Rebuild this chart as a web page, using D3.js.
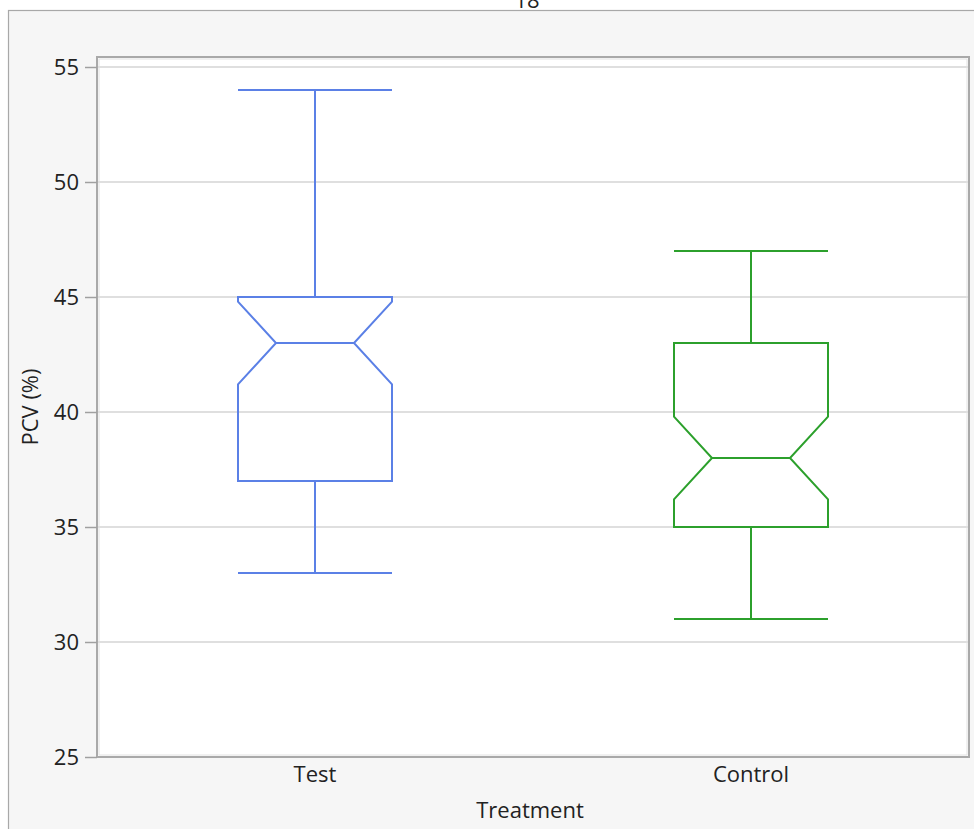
<!DOCTYPE html>
<html>
<head>
<meta charset="utf-8">
<script src="https://cdn.jsdelivr.net/npm/d3@7"></script>
<style>
html,body{margin:0;padding:0;background:#fff;}
svg{display:block;}
text{font-family:"Open Sans","Noto Sans",sans-serif;fill:#222;}
</style>
</head>
<body>
<svg id="chart" width="974" height="829"></svg>
<script>
const categories = ["Test", "Control"];
const whiskerLow  = [33, 31];
const q1          = [37, 35];
const median      = [43, 38];
const q3          = [45, 43];
const whiskerHigh = [54, 47];
const notchLow    = [41.2, 36.2];
const notchHigh   = [44.8, 39.8];
const colors      = ["#5b80e6", "#2ca02c"];
const yTicks      = [25, 30, 35, 40, 45, 50, 55];
const titleText   = "18";
const xTitle      = "Treatment";
const yTitle      = "PCV (%)";

const svg = d3.select("#chart");
const W = 974, H = 829;
const plot = {left: 97, top: 57, right: 969, bottom: 757};
const fontSize = "22px";

// outer panel
svg.append("rect").attr("x", 8.5).attr("y", 10.5).attr("width", W + 20).attr("height", H + 20)
  .attr("fill", "#f6f6f6").attr("stroke", "#a8a8a8").attr("stroke-width", 1.2);

// title (cut off at top, as in the reference)
svg.append("text").attr("x", 527).attr("y", 8).attr("text-anchor", "middle")
  .style("font-size", "22px").text(titleText);

const y = d3.scaleLinear().domain([25, 55]).range([757, 67]);
const x = d3.scaleBand().domain(categories).range([plot.left, plot.right]);

// plot background
svg.append("rect").attr("x", plot.left).attr("y", plot.top)
  .attr("width", plot.right - plot.left).attr("height", plot.bottom - plot.top)
  .attr("fill", "#fff");

// gridlines
svg.append("g").selectAll("line").data(yTicks.filter(t => t > 25)).join("line")
  .attr("x1", plot.left).attr("x2", plot.right)
  .attr("y1", d => y(d)).attr("y2", d => y(d))
  .attr("stroke", "#d4d4d4").attr("stroke-width", 1.5);

// frame
svg.append("rect").attr("x", plot.left).attr("y", plot.top)
  .attr("width", plot.right - plot.left).attr("height", plot.bottom - plot.top)
  .attr("fill", "none").attr("stroke", "#a9a9a9").attr("stroke-width", 2);
svg.append("rect").attr("x", plot.left + 2).attr("y", plot.top + 2)
  .attr("width", plot.right - plot.left - 4).attr("height", plot.bottom - plot.top - 4)
  .attr("fill", "none").attr("stroke", "#e2e2e2").attr("stroke-width", 1);

// y axis
const yAxis = d3.axisLeft(y).tickValues(yTicks).tickSize(12).tickPadding(6);
const gy = svg.append("g").attr("transform", `translate(${plot.left},0)`).call(yAxis);
gy.select(".domain").remove();
gy.selectAll(".tick line").attr("stroke", "#a0a0a0").attr("stroke-width", 1.5);
gy.selectAll(".tick text").style("font-size", fontSize).attr("fill", "#222")
  .style("font-family", "'Open Sans','Noto Sans',sans-serif");

// x axis labels
const xAxis = d3.axisBottom(x).tickSize(0).tickPadding(9);
const gx = svg.append("g").attr("transform", `translate(0,${plot.bottom})`).call(xAxis);
gx.select(".domain").remove();
gx.selectAll(".tick text").style("font-size", fontSize).attr("fill", "#222")
  .style("font-family", "'Open Sans','Noto Sans',sans-serif");

// axis titles
svg.append("text").attr("x", 530).attr("y", 818).attr("text-anchor", "middle")
  .style("font-size", fontSize).text(xTitle);
svg.append("text").attr("transform", "translate(38,407) rotate(-90)")
  .attr("text-anchor", "middle").style("font-size", fontSize).text(yTitle);

// boxes
const boxHalf = 77, notchHalf = 39;
const data = categories.map((c, i) => ({
  c, lo: whiskerLow[i], q1: q1[i], med: median[i], q3: q3[i], hi: whiskerHigh[i],
  nl: notchLow[i], nh: notchHigh[i], col: colors[i]
}));
const g = svg.append("g").selectAll("g").data(data).join("g")
  .attr("stroke", d => d.col).attr("stroke-width", 2).attr("fill", "none");
const cx = d => x(d.c) + x.bandwidth() / 2;

// whiskers
g.append("line").attr("x1", cx).attr("x2", cx).attr("y1", d => y(d.q3)).attr("y2", d => y(d.hi));
g.append("line").attr("x1", cx).attr("x2", cx).attr("y1", d => y(d.q1)).attr("y2", d => y(d.lo));
g.append("line").attr("x1", d => cx(d) - boxHalf).attr("x2", d => cx(d) + boxHalf)
  .attr("y1", d => y(d.hi)).attr("y2", d => y(d.hi));
g.append("line").attr("x1", d => cx(d) - boxHalf).attr("x2", d => cx(d) + boxHalf)
  .attr("y1", d => y(d.lo)).attr("y2", d => y(d.lo));

// notched box
g.append("path").attr("d", d => {
  const c = cx(d);
  const p = d3.path();
  p.moveTo(c - boxHalf, y(d.q1));
  p.lineTo(c - boxHalf, y(d.nl));
  p.lineTo(c - notchHalf, y(d.med));
  p.lineTo(c - boxHalf, y(d.nh));
  p.lineTo(c - boxHalf, y(d.q3));
  p.lineTo(c + boxHalf, y(d.q3));
  p.lineTo(c + boxHalf, y(d.nh));
  p.lineTo(c + notchHalf, y(d.med));
  p.lineTo(c + boxHalf, y(d.nl));
  p.lineTo(c + boxHalf, y(d.q1));
  p.closePath();
  return p.toString();
});
// median line
g.append("line").attr("x1", d => cx(d) - notchHalf).attr("x2", d => cx(d) + notchHalf)
  .attr("y1", d => y(d.med)).attr("y2", d => y(d.med));
</script>
</body>
</html>
